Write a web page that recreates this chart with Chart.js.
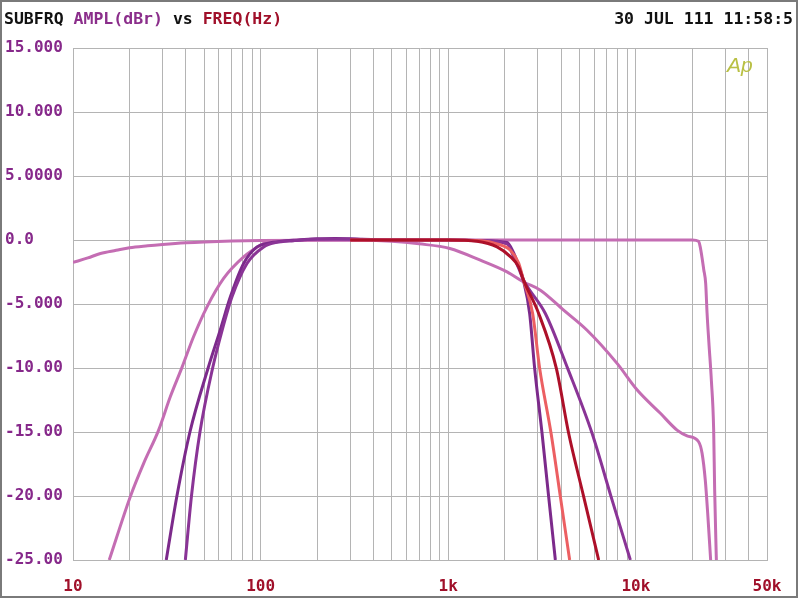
<!DOCTYPE html>
<html>
<head>
<meta charset="utf-8">
<script src="https://cdn.jsdelivr.net/npm/chart.js@4/dist/chart.umd.min.js"></script>
<style>
  html, body { margin: 0; padding: 0; background: #ffffff; }
  #wrap { width: 800px; height: 603px; position: relative; }
</style>
</head>
<body>
<div id="wrap"><canvas id="c" width="800" height="603"></canvas></div>
<script>
// ---- Data ----
const xGridValues = [10,20,30,40,50,60,70,80,90,100,200,300,400,500,600,700,800,900,
  1000,2000,3000,4000,5000,6000,7000,8000,9000,10000,20000,30000,40000,50000];
const xTickLabels = {10:'10', 100:'100', 1000:'1k', 10000:'10k', 50000:'50k'};
const yTickValues = [15, 10, 5, 0, -5, -10, -15, -20, -25];
const yTickLabels = ['15.000','10.000','5.0000','0.0','-5.000','-10.00','-15.00','-20.00','-25.00'];

// Curve A: wide band, light orchid
const freqA = [10,12,14,17,20,25,30,40,50,70,100,200,1000,10000,20000,21600,22000,22540,23000,23560,23960,24500,25270,25980,26300,26860];
const dbA   = [-1.75,-1.4,-1.05,-0.8,-0.6,-0.45,-0.35,-0.22,-0.15,-0.08,-0.04,-0.01,0,0,0,-0.1,-0.5,-1.4,-2.3,-3.4,-5.7,-8,-11,-14.8,-19.5,-25];

// Curve B: gentle band-pass, light orchid
const freqB = [15.6,20.2,23.8,28.6,33,38.1,43.9,51.8,63.5,81.2,100,108,120,150,200,300,500,700,1020,1483,2058,2523,3097,4122,5495,7940,10140,13510,16580,18750,21600,22540,23440,24150,25040];
const dbB   = [-25,-20.05,-17.45,-14.85,-12.25,-9.95,-7.56,-5.22,-3.0,-1.32,-0.4,-0.15,-0.08,-0.02,0,0,-0.1,-0.3,-0.66,-1.58,-2.49,-3.28,-3.92,-5.48,-7.05,-9.64,-11.7,-13.54,-14.85,-15.3,-15.76,-16.67,-18.75,-21.35,-25];

// Curve C: dark purple, steep on both sides
const freqC = [31.4,35.8,42.0,52.5,61,69,81.2,95.7,110,130,160,200,250,300,350,500,1000,1500,2058,2232,2373,2513,2716,2888,3162,3429,3723];
const dbC   = [-25,-20,-15,-10,-7,-4.44,-1.83,-0.54,-0.25,-0.1,0,0.1,0.12,0.1,0.05,0,0,-0.05,-0.2,-1.0,-2.0,-3.14,-5.74,-10.03,-15.1,-20.05,-25];

// Curve D: purple
const freqD = [39.7,42.8,47.5,55.5,62.5,70.4,84.6,103.8,120,150,200,300,500,1000,1500,2058,2232,2373,2513,3293,4330,5842,7376,9348];
const dbD   = [-25,-20,-15,-10,-7,-4.44,-1.83,-0.54,-0.2,-0.05,0.05,0.05,0,0,-0.05,-0.3,-1.3,-2.2,-3.1,-5.74,-10.03,-15.1,-20.05,-25];

// Curve F: salmon
const freqF = [300,1000,1500,1820,2143,2373,2513,2818,3071,3532,3959,4437];
const dbF   = [0,0,-0.05,-0.3,-0.8,-1.8,-3.1,-5.74,-10.03,-15.1,-20.05,-25];

// Curve G: dark red
const freqG = [300,1000,1424,1820,2143,2373,2513,3034,3769,4383,5270,6335];
const dbG   = [0,0,-0.1,-0.54,-1.3,-2.1,-3.1,-5.74,-10.03,-15.1,-20.05,-25];

function pts(fs, ds) { return fs.map((f, i) => ({ x: f, y: ds[i] })); }

const colorOrchid = '#c46db3';
const colorDarkPurple = '#7c2a8b';
const colorPurple = '#8a3496';
const colorSalmon = '#ec5f62';
const colorDarkRed = '#ad1029';

function ds(data, color) {
  return { data, borderColor: color, backgroundColor: color, borderWidth: 3,
    pointRadius: 0, pointHoverRadius: 0, fill: false,
    cubicInterpolationMode: 'monotone', showLine: true };
}

const decorPlugin = {
  id: 'decor',
  beforeDraw(chart) {
    const ctx = chart.ctx;
    ctx.save();
    ctx.fillStyle = '#ffffff';
    ctx.fillRect(0, 0, chart.width, chart.height);
    ctx.restore();
  },
  afterDraw(chart) {
    const ctx = chart.ctx;
    ctx.save();
    ctx.font = 'bold 16.5px "DejaVu Sans Mono", monospace';
    ctx.textBaseline = 'middle';
    ctx.textAlign = 'left';
    const segs = [['SUBFRQ ', '#111111'], ['AMPL(dBr)', '#8b2e8b'], [' vs ', '#111111'], ['FREQ(Hz)', '#a0102a']];
    let x = 4;
    for (const [t, c] of segs) {
      ctx.fillStyle = c;
      ctx.fillText(t, x, 20);
      x += ctx.measureText(t).width;
    }
    ctx.fillStyle = '#111111';
    ctx.textAlign = 'right';
    ctx.fillText('30 JUL 111 11:58:5', 793, 20);
    ctx.font = 'italic 21px "Liberation Sans", sans-serif';
    ctx.fillStyle = '#b9c044';
    ctx.textAlign = 'left';
    ctx.fillText('Ap', 727, 66);
    ctx.strokeStyle = '#7a7a7a';
    ctx.lineWidth = 2;
    ctx.strokeRect(1, 1, 796, 596);
    ctx.restore();
  }
};

const chart = new Chart(document.getElementById('c'), {
  type: 'line',
  data: {
    datasets: [
      ds(pts(freqG, dbG), colorDarkRed),
      ds(pts(freqF, dbF), colorSalmon),
      ds(pts(freqD, dbD), colorPurple),
      ds(pts(freqC, dbC), colorDarkPurple),
      ds(pts(freqA, dbA), colorOrchid),
      ds(pts(freqB, dbB), colorOrchid)
    ]
  },
  options: {
    responsive: false,
    animation: false,
    devicePixelRatio: 1,
    layout: { padding: { left: 5, right: 33, top: 48, bottom: 0 } },
    plugins: { legend: { display: false }, tooltip: { enabled: false }, title: { display: false } },
    scales: {
      x: {
        type: 'logarithmic',
        min: 10, max: 50000,
        afterBuildTicks(scale) { scale.ticks = xGridValues.map(v => ({ value: v })); },
        afterFit(scale) { scale.height = 43; },
        grid: { color: '#b4b4b4', lineWidth: 1, drawTicks: false },
        border: { color: '#b4b4b4', width: 1 },
        ticks: {
          autoSkip: false, maxRotation: 0, padding: 17,
          color: '#a0102a',
          font: { family: '"DejaVu Sans Mono", monospace', size: 16, weight: 'bold' },
          callback(v) { return xTickLabels[v] !== undefined ? xTickLabels[v] : ''; }
        }
      },
      y: {
        type: 'linear',
        min: -25, max: 15,
        afterBuildTicks(scale) { scale.ticks = yTickValues.map(v => ({ value: v })); },
        afterFit(scale) { scale.width = 68; },
        grid: { color: '#b4b4b4', lineWidth: 1, drawTicks: false },
        border: { color: '#b4b4b4', width: 1 },
        ticks: {
          crossAlign: 'far', padding: 6,
          color: '#86288a',
          font: { family: '"DejaVu Sans Mono", monospace', size: 16, weight: 'bold' },
          callback(v) { const i = yTickValues.indexOf(v); return i >= 0 ? yTickLabels[i] : ''; }
        }
      }
    }
  },
  plugins: [decorPlugin]
});
</script>
</body>
</html>
